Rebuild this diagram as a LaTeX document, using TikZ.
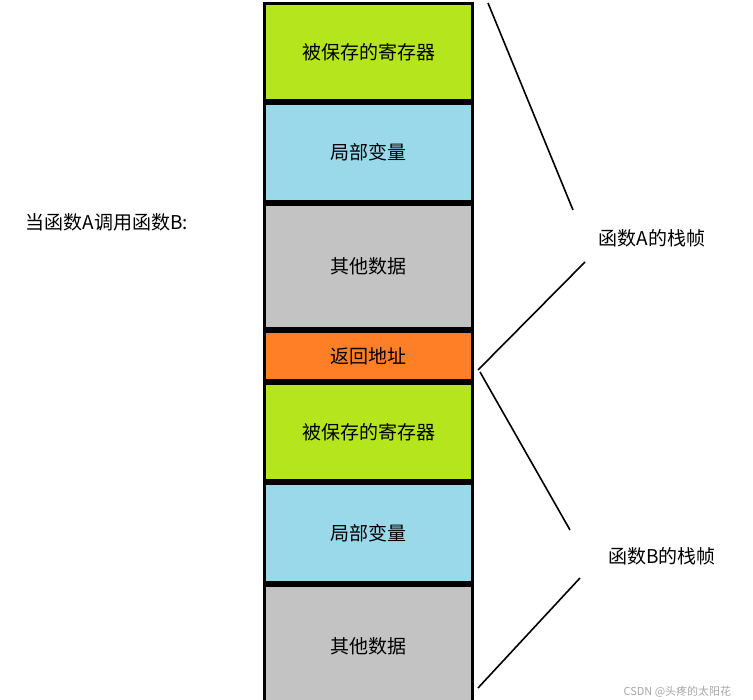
\documentclass[tikz,border=0pt]{standalone}
\usepackage{fontspec}
\setmainfont{Noto Sans CJK SC}
\usetikzlibrary{positioning}
\definecolor{saved}{HTML}{B5E61D}
\definecolor{local}{HTML}{99D9EA}
\definecolor{other}{HTML}{C3C3C3}
\definecolor{ret}{HTML}{FF7F27}
\begin{document}
\begin{tikzpicture}[x=1pt,y=-1pt,font=\fontsize{19}{22}\selectfont]
  \tikzstyle{cell}=[rectangle, draw=black, line width=3pt, minimum width=208pt, inner sep=0pt, anchor=north west]
  \tikzstyle{brace}=[draw, line width=1.6pt]
  \useasboundingbox (0,0) rectangle (753,700);

  \node (savedA) [cell, fill=saved, minimum height=97pt] at (263,2) {被保存的寄存器};
  \node (localA) [cell, fill=local, minimum height=98pt, below=0pt of savedA] {局部变量};
  \node (otherA) [cell, fill=other, minimum height=124pt, below=0pt of localA] {其他数据};
  \node (retA) [cell, fill=ret, minimum height=49pt, below=0pt of otherA] {返回地址};
  \node (savedB) [cell, fill=saved, minimum height=97pt, below=0pt of retA] {被保存的寄存器};
  \node (localB) [cell, fill=local, minimum height=99pt, below=0pt of savedB] {局部变量};
  \node (otherB) [cell, fill=other, minimum height=122pt, below=0pt of localB] {其他数据};

  \node (call) at (107,222) {当函数A调用函数B:};
  \node (frameA) at (652,238) {函数A的栈帧};
  \node (frameB) at (662,556) {函数B的栈帧};

  \coordinate (topA) at (488,3);
  \coordinate (endA) at (573,210);
  \coordinate (startA) at (585,262);
  \coordinate (botA) at (478,370);
  \coordinate (topB) at (480,372);
  \coordinate (endB) at (570,530);
  \coordinate (startB) at (580,578);
  \coordinate (botB) at (478,688);
  \draw [brace] (topA) -- (endA);
  \draw [brace] (startA) -- (botA);
  \draw [brace] (topB) -- (endB);
  \draw [brace] (startB) -- (botB);

  \node (mark) [anchor=west, text=gray!70, font=\fontsize{11}{12}\selectfont] at (620,692) {CSDN @头疼的太阳花};
\end{tikzpicture}
\end{document}
